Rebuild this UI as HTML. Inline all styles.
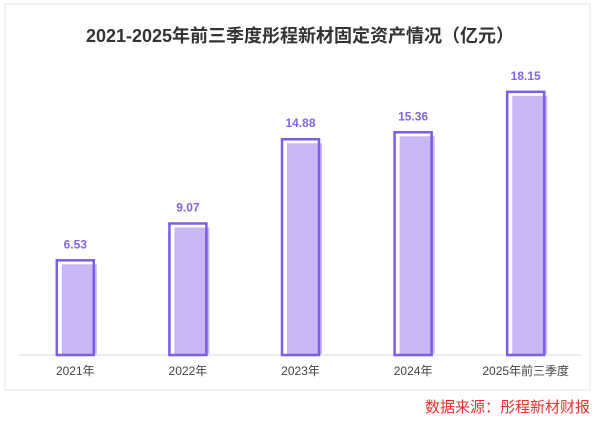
<!DOCTYPE html>
<html><head><meta charset="utf-8"><style>
body{margin:0;background:#fff;width:600px;height:421px;overflow:hidden;font-family:"Liberation Sans","Noto Sans CJK SC",sans-serif}
</style></head><body>
<svg width="600" height="421" id="chart">
<rect x="5" y="4" width="585" height="386" fill="none" stroke="#e4e4e4"/>
<text x="300" y="42" text-anchor="middle" font-size="18" font-weight="bold" fill="#333">2021-2025年前三季度彤程新材固定资产情况（亿元）</text>
<line x1="19" y1="355" x2="582" y2="355" stroke="#d9d9d9"/>
<g id="bars"></g>
<text x="590" y="412" text-anchor="end" font-size="15" fill="#e8312f">数据来源：彤程新材财报</text>
</svg>
<script>
const categories=["2021年","2022年","2023年","2024年","2025年前三季度"];
const values=[6.53,9.07,14.88,15.36,18.15];
const labels=["6.53","9.07","14.88","15.36","18.15"];
const ns="http://www.w3.org/2000/svg";
const g=document.getElementById('bars');
const base=355,scale=14.5,x0=19,step=112.6,bw=37;
function y(v){return base-v*scale;}
function cx(i){return x0+step*(i+0.5);}
function mk(t,a){const e=document.createElementNS(ns,t);for(const k in a)e.setAttribute(k,a[k]);g.appendChild(e);return e;}
values.forEach((v,i)=>{
  const l=cx(i)-bw/2,t=y(v);
  const sh=mk('rect',{x:l+5,y:t+4,width:bw-2,height:base-t-5,fill:'#c8b7f4'});
  
  
  const o=mk('rect',{x:l,y:t,width:bw,height:base-t,fill:'none',stroke:'#7d5ce6','stroke-width':2.5});
  
  
  const lb=mk('text',{x:cx(i),y:t-12,'text-anchor':'middle','font-size':12,'font-weight':'bold',fill:'#8466e0'});
  lb.textContent=labels[i];
  
  
  const cl=mk('text',{x:cx(i),y:375,'text-anchor':'middle','font-size':12,fill:'#444'});
  cl.textContent=categories[i];
  
  
});
</script>
</body></html>
